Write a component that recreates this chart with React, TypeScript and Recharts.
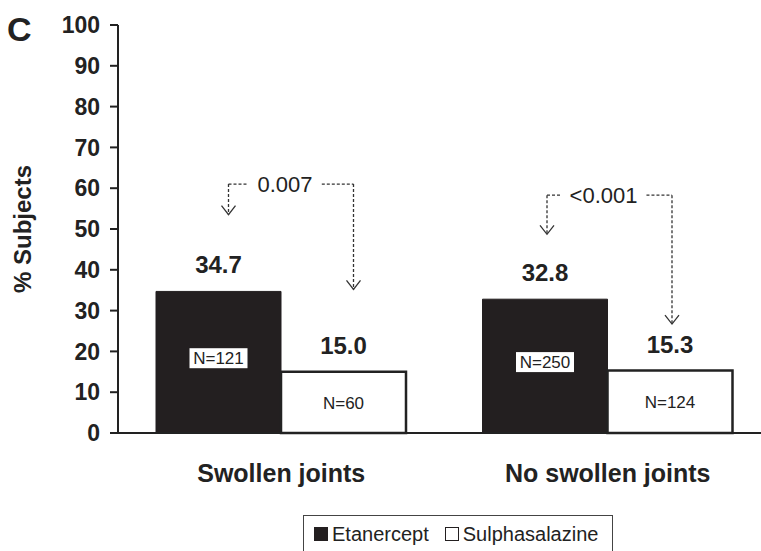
import React from "react";
import { BarChart, Bar, XAxis, YAxis, Legend, LabelList } from "recharts";

const categories = ["Swollen joints", "No swollen joints"];
const etanercept = [34.7, 32.8];
const sulphasalazine = [15.0, 15.3];
const etanerceptN = ["N=121", "N=250"];
const sulphasalazineN = ["N=60", "N=124"];
const pValues = ["0.007", "<0.001"];
const yTicks = [0, 10, 20, 30, 40, 50, 60, 70, 80, 90, 100];

const data = categories.map((name, i) => ({
  name,
  etanercept: etanercept[i],
  sulphasalazine: sulphasalazine[i],
  etanerceptN: etanerceptN[i],
  sulphasalazineN: sulphasalazineN[i],
  p: pValues[i],
}));

const FONT = "'Liberation Sans', Arial, Helvetica, sans-serif";
const DARK = "#231f20";

// bracket levels in % units, and small x nudges of the arrows
const BRACKETS = [
  { top: 61, left: 53.5, right: 35.2, dx: 10 },
  { top: 58.3, left: 48.7, right: 26.7, dx: 2 },
];

function Arrow({ x, y1, y2 }: { x: number; y1: number; y2: number }) {
  return (
    <g stroke="#333" fill="none" strokeWidth={1.3}>
      <line x1={x} y1={y1} x2={x} y2={y2} strokeDasharray="3 2" />
      <polyline points={`${x - 7},${y2 - 9} ${x},${y2} ${x + 7},${y2 - 9}`} />
    </g>
  );
}

function PBracket(props: any) {
  const { x, y, width, height, value, index } = props;
  const b = BRACKETS[index];
  if (!b || !value) return null;
  const k = height / value;
  const base = y + height;
  const yOf = (v: number) => base - v * k;
  const lx = x + width / 2 + b.dx;
  const rx = x + width * 1.5 + b.dx;
  const ty = yOf(b.top);
  const label = data[index].p;
  const fs = 22;
  const half = (label.length * 0.56 * fs) / 2 + 6;
  const cx = (lx + rx) / 2 - 6;
  return (
    <g>
      <g stroke="#333" strokeWidth={1.3} strokeDasharray="3 2">
        <line x1={lx} y1={ty} x2={cx - half} y2={ty} />
        <line x1={cx + half} y1={ty} x2={rx} y2={ty} />
      </g>
      <Arrow x={lx} y1={ty} y2={yOf(b.left)} />
      <Arrow x={rx} y1={ty} y2={yOf(b.right)} />
      <text
        x={cx}
        y={ty}
        dy="0.36em"
        textAnchor="middle"
        fontFamily={FONT}
        fontSize={fs}
        fill="#222"
      >
        {label}
      </text>
    </g>
  );
}

function NBox(props: any) {
  const { x, y, width, height, value } = props;
  const cx = x + width / 2;
  const cy = y + height / 2 - 4;
  const w = String(value).length * 10 + 8;
  return (
    <g>
      <rect x={cx - w / 2} y={cy - 10} width={w} height={20} fill="#fff" />
      <text
        x={cx}
        y={cy}
        dy="0.36em"
        textAnchor="middle"
        fontFamily={FONT}
        fontSize={17}
        fill="#222"
      >
        {value}
      </text>
    </g>
  );
}

function NText(props: any) {
  const { x, y, width, height, value } = props;
  return (
    <text
      x={x + width / 2}
      y={y + height / 2}
      dy="0.36em"
      textAnchor="middle"
      fontFamily={FONT}
      fontSize={17}
      fill="#222"
    >
      {value}
    </text>
  );
}

function LegendBox() {
  const square = (fill: string) => (
    <span
      style={{
        display: "inline-block",
        width: 14,
        height: 14,
        background: fill,
        border: `1.5px solid ${DARK}`,
        marginRight: 4,
        boxSizing: "border-box",
      }}
    />
  );
  return (
    <div
      style={{
        width: 310,
        height: 44,
        border: "1.5px solid #444",
        boxSizing: "border-box",
        fontFamily: FONT,
        fontSize: 20,
        color: "#222",
        display: "flex",
        alignItems: "center",
        paddingLeft: 10,
        paddingBottom: 6,
        background: "#fff",
      }}
    >
      <span style={{ display: "flex", alignItems: "center", marginRight: 16 }}>
        {square(DARK)}Etanercept
      </span>
      <span style={{ display: "flex", alignItems: "center" }}>
        {square("#fff")}Sulphasalazine
      </span>
    </div>
  );
}

export default function App() {
  return (
    <div
      style={{
        position: "absolute",
        left: 0,
        top: 0,
        width: 761,
        height: 551,
        overflow: "hidden",
        background: "#fff",
      }}
    >
      <div
        style={{
          position: "absolute",
          left: 7,
          top: 12,
          fontFamily: FONT,
          fontWeight: "bold",
          fontSize: 34,
          color: "#222",
          lineHeight: 1,
          zIndex: 2,
        }}
      >
        C
      </div>
      <BarChart
        width={771}
        height={551}
        data={data}
        margin={{ top: 25, right: 0, bottom: 0, left: 0 }}
        barCategoryGap={38}
        barGap={0}
      >
        <XAxis
          dataKey="name"
          height={118}
          tickSize={0}
          tickMargin={31}
          axisLine={{ stroke: "#222", strokeWidth: 2 }}
          tick={{ fontFamily: FONT, fontSize: 25, fontWeight: "bold", fill: "#222" }}
        />
        <YAxis
          width={118}
          domain={[0, 100]}
          ticks={yTicks}
          interval={0}
          tickSize={8}
          tickMargin={10}
          axisLine={{ stroke: "#222", strokeWidth: 2 }}
          tickLine={{ stroke: "#222", strokeWidth: 2 }}
          tick={{ fontFamily: FONT, fontSize: 23, fontWeight: "bold", fill: "#222" }}
          label={{
            value: "% Subjects",
            angle: -90,
            position: "insideLeft",
            offset: 22,
            style: {
              textAnchor: "middle",
              fontFamily: FONT,
              fontSize: 24,
              fontWeight: "bold",
              fill: "#222",
            },
          }}
        />
        <Legend
          layout="horizontal"
          verticalAlign="middle"
          align="center"
          content={() => <LegendBox />}
          wrapperStyle={{ left: 303, top: 515, width: 310 }}
        />
        <Bar
          dataKey="etanercept"
          name="Etanercept"
          fill={DARK}
          stroke={DARK}
          strokeWidth={1}
          isAnimationActive={false}
        >
          <LabelList
            dataKey="etanercept"
            position="top"
            offset={18}
            formatter={(v: any) => Number(v).toFixed(1)}
            style={{ fontFamily: FONT, fontSize: 24, fontWeight: "bold", fill: "#222" }}
          />
          <LabelList dataKey="etanerceptN" content={<NBox />} />
          <LabelList dataKey="etanercept" content={<PBracket />} />
        </Bar>
        <Bar
          dataKey="sulphasalazine"
          name="Sulphasalazine"
          fill="#fff"
          stroke="#222"
          strokeWidth={2.5}
          isAnimationActive={false}
        >
          <LabelList
            dataKey="sulphasalazine"
            position="top"
            offset={18}
            formatter={(v: any) => Number(v).toFixed(1)}
            style={{ fontFamily: FONT, fontSize: 24, fontWeight: "bold", fill: "#222" }}
          />
          <LabelList dataKey="sulphasalazineN" content={<NText />} />
        </Bar>
      </BarChart>
    </div>
  );
}
